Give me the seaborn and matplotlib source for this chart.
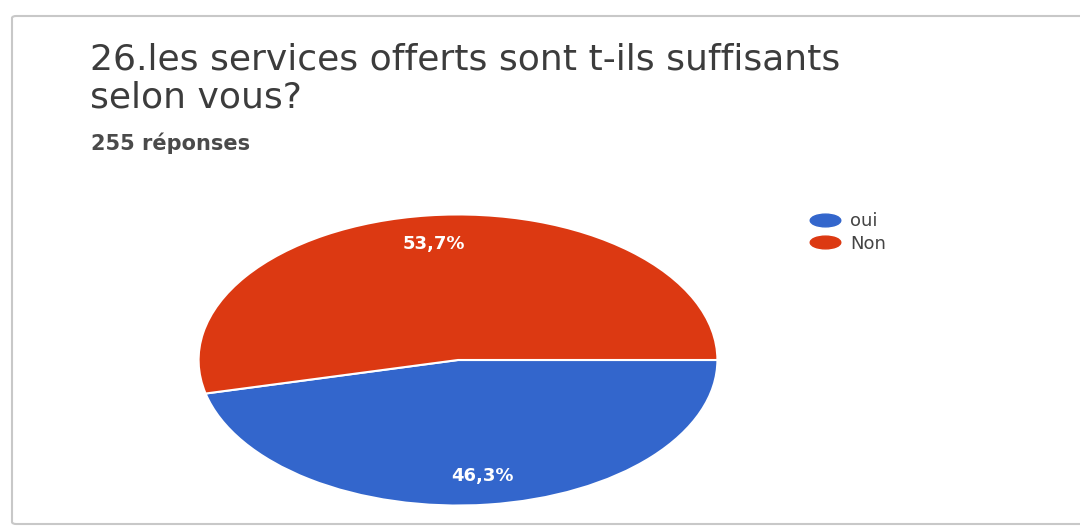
import matplotlib
matplotlib.use("Agg")
import matplotlib.pyplot as plt
import seaborn as sns
from matplotlib.patches import FancyBboxPatch
from matplotlib.lines import Line2D
from matplotlib.path import Path
from matplotlib.transforms import Affine2D

# data
labels = ["oui", "Non"]
shares = [46.3, 53.7]
colors = ["#3366CC", "#DC3912"]
title = "26.les services offerts sont t-ils suffisants\nselon vous?"
subtitle = "255 réponses"

sns.set_theme(style="white")
plt.rcParams["font.family"] = ["DejaVu Sans"]

fig = plt.figure(figsize=(10.8, 5.28), dpi=100)
W, H = 1080, 528

# card frame
card = FancyBboxPatch((12 / W, 4 / H), 1.2, (512 - 4) / H,
                      boxstyle="round,pad=0,rounding_size=0.004",
                      transform=fig.transFigure, facecolor="white",
                      edgecolor="#c8c8c8", linewidth=1.5, zorder=-10)
fig.patches.append(card)

fig.text(90 / W, 1 - 42 / H, title, fontsize=26, color="#3c3c3c",
         va="top", ha="left", linespacing=1.15)
fig.text(91 / W, 1 - 143 / H, subtitle, fontsize=15, color="#4a4a4a",
         fontweight="bold", va="center", ha="left")

# pie, stretched like the screenshot
ax = fig.add_axes([196 / W, 21 / H, 524 / W, 294 / H])
wedges, texts, autotexts = ax.pie(
    shares, colors=colors, startangle=0, counterclock=False,
    autopct=lambda p: f"{p:.1f}%".replace(".", ","), pctdistance=0.8,
    wedgeprops=dict(edgecolor="white", linewidth=1.5),
    textprops=dict(color="white", fontsize=13, fontweight="bold"))
ax.set_aspect("auto")
ax.set_xlim(-1.01, 1.01)
ax.set_ylim(-1.01, 1.01)
ax.axis("off")

oval = Path.unit_circle().transformed(Affine2D().scale(2.4, 1.0))
handles = [Line2D([0], [0], marker=oval, linestyle="", markersize=22,
                  markerfacecolor=c, markeredgecolor=c) for c in colors]
fig.legend(handles, labels, loc="upper left",
           bbox_to_anchor=(789 / W, 1 - 196 / H), frameon=False,
           fontsize=13, labelcolor="#444444", handletextpad=0.3,
           labelspacing=0.25, handlelength=2.2)

fig.savefig("out.png", dpi=100)
